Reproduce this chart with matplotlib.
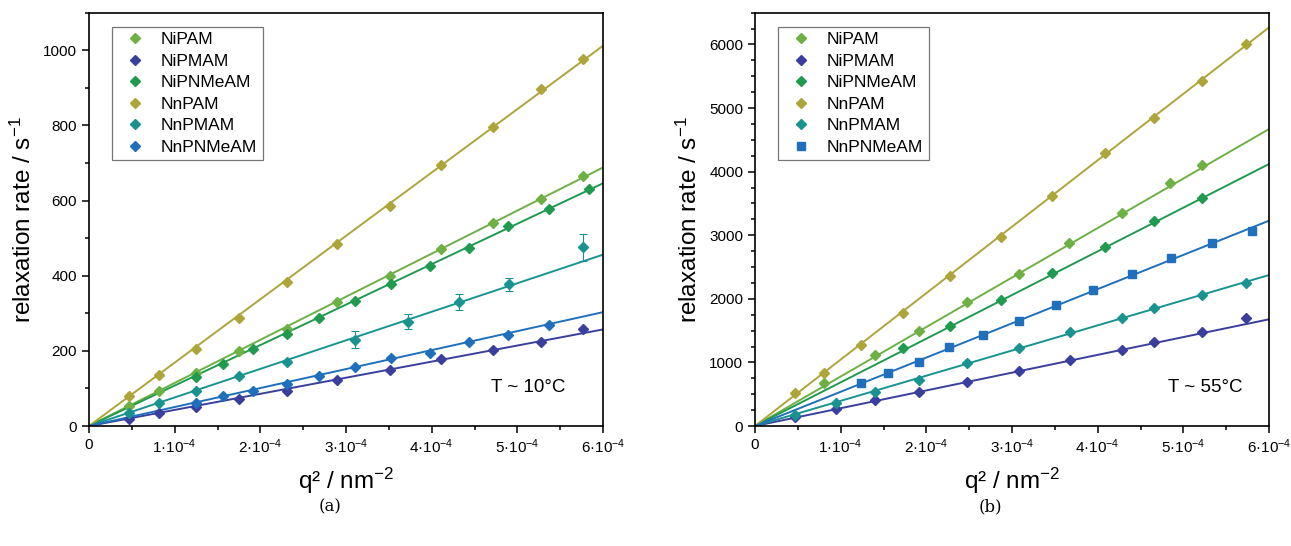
import numpy as np
import matplotlib
matplotlib.use("Agg")
import matplotlib.pyplot as plt
from matplotlib.ticker import MultipleLocator, FuncFormatter

plt.rcParams['font.family'] = ['Liberation Sans', 'DejaVu Sans']
plt.rcParams['mathtext.fontset'] = 'custom'
plt.rcParams['mathtext.rm'] = 'Liberation Sans'
plt.rcParams['mathtext.it'] = 'Liberation Sans:italic'
plt.rcParams['mathtext.bf'] = 'Liberation Sans:bold'

names = ['NiPAM', 'NiPMAM', 'NiPNMeAM', 'NnPAM', 'NnPMAM', 'NnPNMeAM']
colors = ['#6db043', '#3a3f9e', '#1f9a4f', '#ada53a', '#19938f', '#1f6fbd']

# (a) T ~ 10 C, q^2 in units of 1e-4 nm^-2, rates in s^-1
qa_NiPAM = [0.468, 0.819, 1.248, 1.754, 2.308, 2.893, 3.509, 4.113, 4.717, 5.271, 5.762]
ra_NiPAM = [53, 94, 142, 200, 259, 330, 400, 471, 540, 604, 665]
qa_NiPMAM = [0.468, 0.819, 1.248, 1.754, 2.308, 2.893, 3.509, 4.113, 4.717, 5.271, 5.762]
ra_NiPMAM = [19, 34, 51, 73, 94, 122, 150, 177, 203, 224, 259]
qa_NiPNMeAM = [1.248, 1.567, 1.910, 2.308, 2.682, 3.103, 3.528, 3.977, 4.436, 4.893, 5.372, 5.840]
ra_NiPNMeAM = [130, 166, 205, 245, 287, 332, 378, 426, 474, 533, 578, 631]
qa_NnPAM = [0.468, 0.819, 1.248, 1.754, 2.308, 2.893, 3.509, 4.113, 4.717, 5.271, 5.762]
ra_NnPAM = [80, 137, 206, 288, 383, 485, 586, 694, 796, 896, 978]
qa_NnPMAM = [0.468, 0.819, 1.248, 1.754, 2.308, 3.103, 3.723, 4.316, 4.901, 5.770]
ra_NnPMAM = [35, 61, 94, 133, 171, 230, 278, 330, 377, 476]
ea_NnPMAM = [2, 2, 3, 3, 4, 22, 21, 22, 18, 36]
qa_NnPNMeAM = [1.248, 1.567, 1.910, 2.308, 2.682, 3.103, 3.528, 3.977, 4.436, 4.893, 5.372]
ra_NnPNMeAM = [62, 80, 94, 111, 133, 156, 182, 195, 224, 243, 270]
# fitted line value at q^2 = 6e-4
fit_a = [688, 257, 646, 1012, 456, 303]

# (b) T ~ 55 C
qb_NiPAM = [0.81, 1.40, 1.91, 2.48, 3.08, 3.67, 4.28, 4.85, 5.22]
rb_NiPAM = [681, 1110, 1499, 1955, 2395, 2883, 3344, 3815, 4104]
qb_NiPMAM = [0.47, 0.95, 1.40, 1.91, 2.48, 3.08, 3.68, 4.28, 4.66, 5.22, 5.73]
rb_NiPMAM = [140, 275, 409, 540, 697, 865, 1038, 1195, 1326, 1483, 1703]
qb_NiPNMeAM = [1.73, 2.28, 2.87, 3.47, 4.08, 4.66, 5.22]
rb_NiPNMeAM = [1222, 1577, 1981, 2400, 2810, 3223, 3590]
qb_NnPAM = [0.47, 0.81, 1.24, 1.73, 2.28, 2.87, 3.47, 4.08, 4.66, 5.22, 5.73]
rb_NnPAM = [514, 838, 1270, 1782, 2364, 2967, 3616, 4287, 4848, 5430, 6000]
qb_NnPMAM = [0.47, 0.95, 1.40, 1.91, 2.48, 3.08, 3.68, 4.28, 4.66, 5.22, 5.73]
rb_NnPMAM = [170, 362, 530, 730, 985, 1232, 1473, 1693, 1850, 2060, 2243]
qb_NnPNMeAM = [1.24, 1.55, 1.91, 2.26, 2.66, 3.08, 3.51, 3.95, 4.40, 4.86, 5.33, 5.80]
rb_NnPNMeAM = [681, 838, 1011, 1237, 1431, 1651, 1903, 2138, 2390, 2647, 2883, 3070]
fit_b = [4670, 1678, 4120, 6268, 2374, 3229]

data_a = [(qa_NiPAM, ra_NiPAM), (qa_NiPMAM, ra_NiPMAM), (qa_NiPNMeAM, ra_NiPNMeAM),
          (qa_NnPAM, ra_NnPAM), (qa_NnPMAM, ra_NnPMAM), (qa_NnPNMeAM, ra_NnPNMeAM)]
data_b = [(qb_NiPAM, rb_NiPAM), (qb_NiPMAM, rb_NiPMAM), (qb_NiPNMeAM, rb_NiPNMeAM),
          (qb_NnPAM, rb_NnPAM), (qb_NnPMAM, rb_NnPMAM), (qb_NnPNMeAM, rb_NnPNMeAM)]
markers_a = ['D'] * 6
markers_b = ['D'] * 5 + ['s']

W, H = 1291, 546
fig = plt.figure(figsize=(W / 100, H / 100), dpi=100)
ax1 = fig.add_axes([89 / W, 1 - 426 / H, 514 / W, 413.3 / H])
ax2 = fig.add_axes([755 / W, 1 - 426 / H, 514 / W, 413.3 / H])


def xfmt(v, pos):
    n = int(round(v / 1e-4))
    if n == 0:
        return '0'
    return r'$\mathregular{%d·10^{-4}}$' % n


def draw(ax, data, fits, markers, ymax, ymajor, yminor, temp, tx):
    xs = np.array([0, 6e-4])
    for i in range(6):
        q, r = data[i]
        q = np.array(q) * 1e-4
        # fit line through origin
        ax.plot(xs, xs * fits[i] / 6e-4, color=colors[i], lw=1.4, zorder=2)
        ms = 5.4 if markers[i] == 's' else 5.5
        ax.plot(q, r, linestyle='none', marker=markers[i], ms=ms, color=colors[i],
                mec=colors[i], label=names[i], zorder=3)
    ax.set_xlim(0, 6e-4)
    ax.set_ylim(0, ymax)
    ax.xaxis.set_major_locator(MultipleLocator(1e-4))
    ax.xaxis.set_minor_locator(MultipleLocator(0.5e-4))
    ax.yaxis.set_major_locator(MultipleLocator(ymajor))
    ax.yaxis.set_minor_locator(MultipleLocator(yminor))
    ax.xaxis.set_major_formatter(FuncFormatter(xfmt))
    ax.tick_params(which='both', direction='out', width=1.1, top=False, right=False,
                   labelsize=11)
    ax.tick_params(which='major', length=5)
    ax.tick_params(which='minor', length=2.7)
    for s in ax.spines.values():
        s.set_linewidth(1.2)
    ax.set_xlabel('q² / nm$^{-2}$', fontsize=17.5, labelpad=7)
    ax.set_ylabel('relaxation rate / s$^{-1}$', fontsize=17.5, labelpad=5)
    ax.text(tx, 0.092, temp, transform=ax.transAxes, ha='right', va='center', fontsize=13.5)
    leg = ax.legend(loc='upper left', bbox_to_anchor=(0.044, 0.966), borderaxespad=0,
                    fontsize=12.5, frameon=True, fancybox=False, framealpha=1,
                    edgecolor='#777777', borderpad=0.3, labelspacing=0.37,
                    handlelength=2.15, handletextpad=0.4, numpoints=1)
    leg.get_frame().set_linewidth(0.9)


draw(ax1, data_a, fit_a, markers_a, 1100, 200, 100, 'T ~ 10°C', 0.926)
draw(ax2, data_b, fit_b, markers_b, 6500, 1000, 250, 'T ~ 55°C', 0.949)

# error bars of NnPMAM in (a)
ax1.errorbar(np.array(qa_NnPMAM) * 1e-4, ra_NnPMAM, yerr=ea_NnPMAM, fmt='none',
             ecolor=colors[4], elinewidth=0.8, capsize=3, capthick=0.8, zorder=2.5)

fig.text(330 / W, 1 - 507 / H, '(a)', ha='center', va='center', fontsize=12,
         family='DejaVu Serif')
fig.text(990 / W, 1 - 507 / H, '(b)', ha='center', va='center', fontsize=12,
         family='DejaVu Serif')

fig.savefig('out.png', dpi=100)
